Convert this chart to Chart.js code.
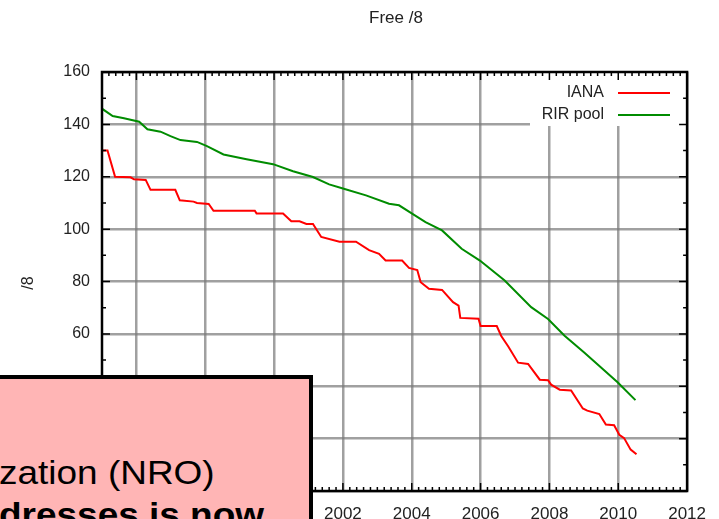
<!DOCTYPE html>
<html>
<head>
<meta charset="utf-8">
<script src="https://cdn.jsdelivr.net/npm/chart.js@4"></script>
<style>
  body { margin: 0; background: #fff; width: 719px; height: 519px; overflow: hidden; position: relative; }
  #wrap { position: absolute; left: 0; top: 0; width: 719px; height: 519px; }
  #note { position: absolute; left: 0; top: 375px; width: 313px; height: 144px; box-sizing: border-box;
          background: #ffb5b5; border-top: 4px solid #000; border-right: 4px solid #000; }
  .noteTxt { position: absolute; left: -1px; font-family: "Liberation Sans", Arial, sans-serif; font-size: 33px;
             line-height: 33px; color: #000; white-space: nowrap; transform: scaleX(1.12); transform-origin: left center; }
</style>
</head>
<body>
<div id="wrap"><canvas id="freeSlash8" width="719" height="519"></canvas></div>
<div id="note"></div>
<div class="noteTxt" style="top:456px;">zation (NRO)</div>
<div class="noteTxt" style="top:498px;font-weight:bold;">dresses is now</div>
<script>
var chartTitle = "Free /8";
var yTitle = "/8";
var xTickYears = [1996, 1998, 2000, 2002, 2004, 2006, 2008, 2010, 2012];

var ianaYears = [1995.0, 1995.16, 1995.38, 1995.83, 1995.93, 1996.27, 1996.41, 1997.13, 1997.26, 1997.66,
  1997.76, 1998.1, 1998.24, 1999.44, 1999.49, 2000.26, 2000.5, 2000.74, 2000.94, 2001.13,
  2001.37, 2001.9, 2002.38, 2002.76, 2003.05, 2003.24, 2003.72, 2003.92, 2004.16, 2004.26,
  2004.5, 2004.88, 2005.2, 2005.36, 2005.41, 2005.94, 2006.0, 2006.47, 2006.6, 2006.8,
  2007.09, 2007.38, 2007.72, 2007.96, 2008.05, 2008.3, 2008.63, 2008.97, 2009.1, 2009.45,
  2009.64, 2009.88, 2010.03, 2010.17, 2010.36, 2010.53];
var ianaFree = [130, 130, 120, 119.8, 119, 118.8, 115, 115, 111, 110.5,
  110, 109.6, 107, 107, 106, 106, 103, 103, 102, 102,
  97, 95.2, 95.2, 92, 90.6, 88, 88, 85.2, 84.4, 79.7,
  77.2, 76.8, 72.1, 70.8, 66.1, 65.8, 63, 63, 59.2, 55.3,
  49, 48.5, 42.5, 42.3, 40.6, 38.7, 38.4, 31.5, 30.7, 29.4,
  25.4, 25.1, 21.5, 20.2, 15.8, 14];

var rirYears = [1995.0, 1995.31, 1995.64, 1996.08, 1996.32, 1996.7, 1996.99, 1997.28, 1997.76, 1998.05,
  1998.53, 1999.2, 1999.97, 2000.55, 2001.13, 2001.6, 2002.0, 2002.67, 2003.34, 2003.63,
  2004.01, 2004.4, 2004.88, 2005.45, 2005.98, 2006.7, 2007.47, 2007.96, 2008.44, 2009.01,
  2009.5, 2009.98, 2010.5];
var rirFree = [146, 143.2, 142.3, 141, 138.1, 137.2, 135.5, 134, 133.3, 131.7,
  128.5, 126.7, 124.8, 122.1, 119.9, 117.1, 115.5, 112.9, 109.7, 109.1,
  105.9, 102.7, 99.5, 92.5, 88, 80.4, 70.2, 65.7, 59.3, 52.9,
  47.2, 41.5, 34.7];

function toPoints(xs, ys) {
  var pts = [];
  for (var i = 0; i < xs.length; i++) pts.push({ x: xs[i], y: ys[i] });
  return pts;
}

var fontFam = '"Liberation Sans", Arial, sans-serif';

// gnuplot-like frame, inward ticks, key and titles
var gnuplotBits = {
  id: 'gnuplotBits',
  afterDatasetsDraw: function(chart) {
    var ctx = chart.ctx, a = chart.chartArea;
    var xs = chart.scales.x, ys = chart.scales.y;
    ctx.save();

    // key box (white, hides grid)
    ctx.fillStyle = '#fff';
    ctx.fillRect(530, a.top + 1, a.right - 531, 125 - a.top);
    ctx.textAlign = 'right';
    ctx.textBaseline = 'middle';
    ctx.font = '16px ' + fontFam;
    var keyY = [93, 115];
    chart.data.datasets.forEach(function(ds, i) {
      ctx.fillStyle = '#222';
      ctx.fillText(ds.label, 604, keyY[i]);
      ctx.strokeStyle = ds.borderColor;
      ctx.lineWidth = 2;
      ctx.beginPath();
      ctx.moveTo(618, keyY[i]);
      ctx.lineTo(670, keyY[i]);
      ctx.stroke();
    });

    // ticks
    ctx.strokeStyle = '#000';
    ctx.lineWidth = 1.5;
    ctx.beginPath();
    for (var t = 0; t <= 85; t++) {
      var yr = xs.min + t * 0.2;
      var px = xs.getPixelForValue(yr);
      var len = (Math.abs(yr / 2 - Math.round(yr / 2)) < 0.01) ? 8 : 4;
      ctx.moveTo(px, a.top); ctx.lineTo(px, a.top + len);
      ctx.moveTo(px, a.bottom); ctx.lineTo(px, a.bottom - len);
    }
    for (var v = 0; v <= 160; v += 10) {
      var py = ys.getPixelForValue(v);
      var l2 = (v % 20 === 0) ? 8 : 4;
      ctx.moveTo(a.left, py); ctx.lineTo(a.left + l2, py);
      ctx.moveTo(a.right, py); ctx.lineTo(a.right - l2, py);
    }
    ctx.stroke();

    // frame
    ctx.lineWidth = 2.5;
    ctx.strokeRect(a.left, a.top, a.right - a.left, a.bottom - a.top);

    // titles
    ctx.fillStyle = '#222';
    ctx.textAlign = 'center';
    ctx.textBaseline = 'middle';
    ctx.font = '17px ' + fontFam;
    ctx.fillText(chartTitle, 396, 18);
    ctx.translate(29, 283);
    ctx.rotate(-Math.PI / 2);
    ctx.font = '16px ' + fontFam;
    ctx.fillText(yTitle, 0, 0);
    ctx.restore();
  }
};

var ctx = document.getElementById('freeSlash8').getContext('2d');
var myChart = new Chart(ctx, {
  type: 'line',
  data: {
    datasets: [{
      label: 'IANA',
      data: toPoints(ianaYears, ianaFree),
      borderColor: '#ff0000',
      borderWidth: 2,
      pointRadius: 0,
      tension: 0
    }, {
      label: 'RIR pool',
      data: toPoints(rirYears, rirFree),
      borderColor: '#008c00',
      borderWidth: 2,
      pointRadius: 0,
      tension: 0
    }]
  },
  options: {
    responsive: false,
    animation: false,
    layout: { padding: { left: 0, right: 31, top: 72, bottom: 0 } },
    plugins: { legend: { display: false }, title: { display: false }, tooltip: { enabled: false } },
    scales: {
      x: {
        type: 'linear',
        min: 1995,
        max: 2012,
        afterBuildTicks: function(s) {
          s.ticks = xTickYears.map(function(v) { return { value: v }; });
        },
        afterFit: function(s) { s.height = 28; },
        grid: { color: 'rgba(120,120,120,0.7)', lineWidth: 2.5, drawTicks: false },
        border: { display: false },
        ticks: {
          padding: 13,
          color: '#222',
          font: { family: fontFam, size: 17 },
          callback: function(v) { return String(v); },
          maxRotation: 0,
          autoSkip: false
        }
      },
      y: {
        min: 0,
        max: 160,
        afterFit: function(s) { s.width = 102; },
        grid: { color: 'rgba(120,120,120,0.7)', lineWidth: 2.5, drawTicks: false },
        border: { display: false },
        ticks: {
          stepSize: 20,
          padding: 12,
          color: '#222',
          font: { family: fontFam, size: 16 }
        }
      }
    }
  },
  plugins: [gnuplotBits]
});
</script>
</body>
</html>
